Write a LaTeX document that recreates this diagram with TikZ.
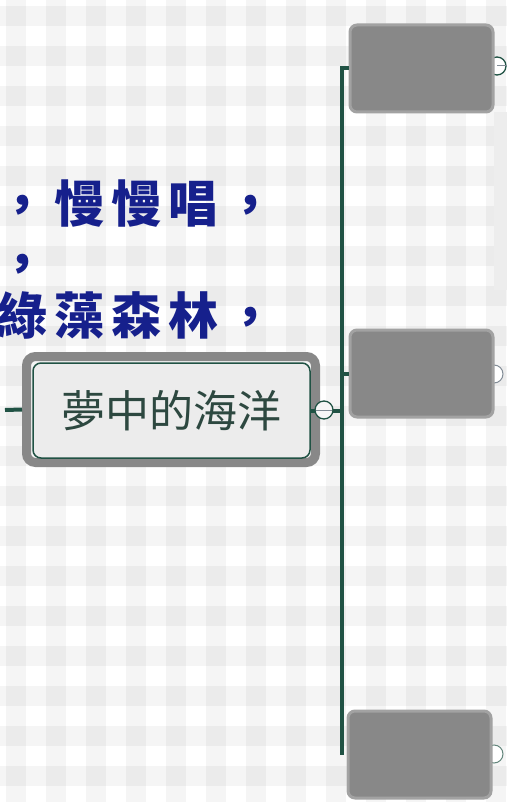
\documentclass[tikz,border=0pt]{standalone}
\usepackage{fontspec}
\usepackage{xcolor}
\usetikzlibrary{positioning,calc}

\newfontfamily\cjk{Noto Sans CJK TC}

\definecolor{lyricblue}{RGB}{22,32,140}
\definecolor{stem}{RGB}{32,82,68}
\definecolor{titleink}{RGB}{45,72,64}
\definecolor{boxgray}{RGB}{136,136,136}
\definecolor{rimgray}{RGB}{162,162,162}
\definecolor{haze}{RGB}{236,236,236}
\definecolor{dashgray}{RGB}{130,140,150}

\newcommand{\lyriccell}[1]{\makebox[57pt][c]{#1}}
\newcommand{\lyricfirst}[1]{\makebox[50.5pt][l]{\makebox[44pt][c]{#1}}}

\tikzset{
  band/.style={fill=black, fill opacity=0.04},
  lyric/.style={anchor=west, inner sep=0pt, text=lyricblue, font=\cjk\bfseries\fontsize{50}{50}\selectfont},
  leaf/.style={minimum width=143pt, minimum height=87pt, rounded corners=7pt, fill=boxgray, draw=rimgray, line width=3pt, anchor=north west},
  branch/.style={draw=stem, line width=4pt, line join=miter},
  knob/.style={circle, minimum size=18pt, inner sep=0pt, draw=stem, line width=1.3pt, fill=white},
}

\begin{document}
\begin{tikzpicture}[x=1pt, y=-1pt]
        \useasboundingbox (0,0) rectangle (507,802);
        \clip (0,0) rectangle (507,802);

        % gingham background
        \fill[white] (0,0) rectangle (507,802);
        \foreach \x in {6,46,...,486} \fill[band] (\x,0) rectangle ++(20,802);
        \foreach \y in {6,46,...,766} \fill[band] (0,\y) rectangle ++(507,20);
        \fill[black!7] (494,112) rectangle (507,290);

        % lyrics
        \node (line1) [lyric] at (0,204) {\lyricfirst{，}\lyriccell{慢}\lyriccell{慢}\lyriccell{唱}\lyriccell{，}};
        \node (line2) [lyric] at (0,268) {\lyricfirst{，}};
        \node (line3) [lyric] at (0,315) {\lyricfirst{綠}\lyriccell{藻}\lyriccell{森}\lyriccell{林}\lyriccell{，}};

        % central topic
        \node (halo) [minimum width=289pt, minimum height=106pt, rounded corners=9pt, draw=boxgray, line width=9pt, fill=white!96!black] at (171,409.5) {};
        \coordinate (lead) at (5,410);
        \draw[branch] (lead) -- (halo.west);
        \node (title) [minimum width=277pt, minimum height=95pt, rounded corners=8pt, draw=stem, line width=1.5pt, fill=haze, text=titleink, font=\cjk\fontsize{44}{44}\selectfont] at (171.5,410.5) {夢中的海洋};

        % subtopics
        \coordinate (trunk-end) at (342,755);
        \node (k1) [knob] at (497,66) {};
        \draw[dashgray, line width=1pt] (k1.center) -- (k1.east);
        \node (k2) [knob, draw=dashgray, line width=1pt] at (494,374) {};
        \node (k3) [knob, draw=stem!70, line width=1pt] at (494,754) {};

        \node (box1) [leaf] at (348.5,23.5) {};
        \node (box2) [leaf] at (348.5,328.5) {};
        \node (box3) [leaf] at (346.5,709.5) {};

        \draw[branch] (box1.west) -| (trunk-end);
        \draw[branch] (box2.west) -- (box2.west -| trunk-end);
        \draw[branch] (title.east) -- (title.east -| trunk-end);

        \node (k0) [knob, fill=white!97!black] at (324,410) {};
        \draw[dashgray, line width=1pt] ([xshift=2pt]k0.west) -- ([xshift=-2pt]k0.east);
    \end{tikzpicture}
\end{document}
